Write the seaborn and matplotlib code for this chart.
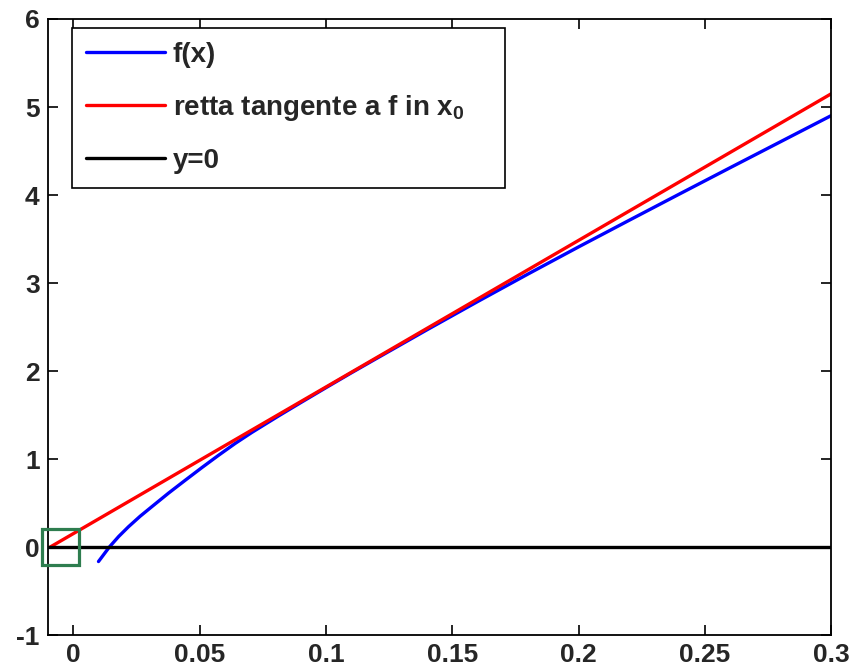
import matplotlib
matplotlib.use("Agg")
import matplotlib.pyplot as plt
import seaborn as sns
from matplotlib.patches import Rectangle

# values
fx_x = [0.0100, 0.0143, 0.0180, 0.0219, 0.0265, 0.0311, 0.0377, 0.0443, 0.0509,
        0.0575, 0.0641, 0.0707, 0.0813, 0.090, 0.100, 0.110, 0.120, 0.140,
        0.160, 0.180, 0.200, 0.220, 0.240, 0.260, 0.280, 0.300]
fx_y = [-0.165, 0.0, 0.120, 0.231, 0.350, 0.458, 0.612, 0.758, 0.902,
        1.042, 1.177, 1.302, 1.490, 1.640, 1.810, 1.978, 2.142, 2.468,
        2.788, 3.102, 3.410, 3.712, 4.012, 4.310, 4.606, 4.902]
tan_x = [-0.0091, 0.300]
tan_y = [0.0, 5.15]
zero_x = [-0.01, 0.300]
zero_y = [0.0, 0.0]
x_ticks = [0, 0.05, 0.1, 0.15, 0.2, 0.25, 0.3]
x_labels = ['0', '0.05', '0.1', '0.15', '0.2', '0.25', '0.3']
y_ticks = [-1, 0, 1, 2, 3, 4, 5, 6]
zoom_box = (-0.0124, -0.21, 0.0148, 0.41)  # x0, y0, width, height

sns.set_style("ticks")
plt.rcParams['font.family'] = ['Liberation Sans', 'DejaVu Sans']
plt.rcParams['font.weight'] = 'bold'
plt.rcParams['axes.unicode_minus'] = False
plt.rcParams['mathtext.fontset'] = 'custom'
plt.rcParams['mathtext.rm'] = 'Liberation Sans:bold'
plt.rcParams['mathtext.default'] = 'rm'

fig = plt.figure(figsize=(8.49, 6.69), dpi=100)
ax = fig.add_axes([0.0565, 0.0508, 0.9225, 0.9208])

sns.lineplot(x=fx_x, y=fx_y, ax=ax, color='#0000ff', lw=2.4, label='f(x)', sort=False)
sns.lineplot(x=tan_x, y=tan_y, ax=ax, color='#ff0000', lw=2.4,
             label='retta tangente a f in x$_0$', sort=False)
sns.lineplot(x=zero_x, y=zero_y, ax=ax, color='black', lw=2.4, label='y=0', sort=False)

ax.add_patch(Rectangle(zoom_box[:2], zoom_box[2], zoom_box[3], fill=False,
                       edgecolor='#2e7d4f', lw=2.3, clip_on=False, zorder=5))

ax.set_xlim(-0.01, 0.3)
ax.set_ylim(-1, 6)
ax.set_xticks(x_ticks)
ax.set_xticklabels(x_labels)
ax.set_yticks(y_ticks)
ax.tick_params(direction='in', length=7, width=1.2, labelsize=19, pad=6,
               top=True, right=True, color='black')
for s in ax.spines.values():
    s.set_visible(True)
    s.set_linewidth(1.3)
    s.set_color('black')

leg = ax.legend(loc='upper left', bbox_to_anchor=(0.0303, 0.5, 0.5534, 0.4849),
                mode='expand', borderaxespad=0, fontsize=20, handlelength=2.85,
                handletextpad=0.28, labelspacing=0.9, borderpad=0.5,
                fancybox=False, framealpha=1, edgecolor='black')
leg.get_frame().set_linewidth(1.2)

fig.savefig('out.png', dpi=100)
